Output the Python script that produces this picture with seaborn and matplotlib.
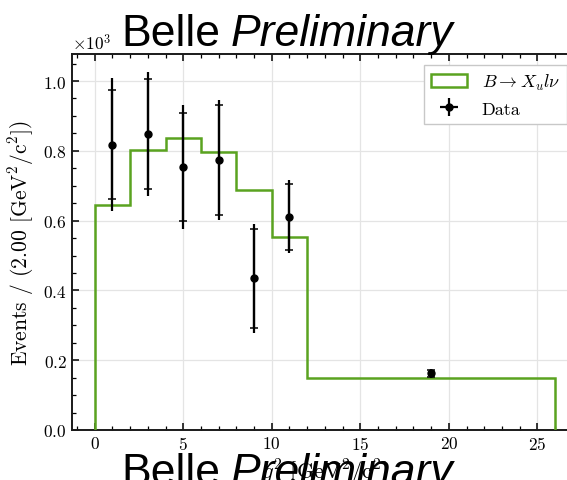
import numpy as np
import seaborn as sns
import matplotlib.pyplot as plt
from matplotlib.ticker import MultipleLocator, ScalarFormatter

# Binned signal template (events per bin) and measured data points
bin_edges = [0, 2, 4, 6, 8, 10, 12, 26]
signal_counts = [646, 801, 837, 797, 689, 554, 150]

data_q2 = [1, 3, 5, 7, 9, 11, 19]
data_counts = [818, 848, 753, 774, 435, 611, 163]
data_err_inner = [155, 157, 155, 157, 142, 95, 10]
data_err_outer = [191, 177, 177, 173, 156, 104, 13]

sns.set_theme(style="ticks")
plt.rcParams.update({
    "font.family": "serif",
    "font.serif": ["cmr10"],
    "mathtext.fontset": "cm",
    "axes.formatter.use_mathtext": True,
    "axes.unicode_minus": False,
    "xtick.direction": "in",
    "ytick.direction": "in",
    "xtick.top": True,
    "ytick.right": True,
    "axes.linewidth": 1.4,
    "axes.edgecolor": "#1a1a1a",
    "text.color": "black",
    "axes.labelcolor": "black",
    "xtick.color": "black",
    "ytick.color": "black",
})

fig = plt.figure(figsize=(5.67, 4.81), dpi=100)
ax = fig.add_axes([0.1265, 0.104, 0.893, 0.782])

green = "#5aa320"
centers = [(a + b) / 2 for a, b in zip(bin_edges[:-1], bin_edges[1:])]
ax.hist(centers, bins=bin_edges, weights=signal_counts, histtype="step",
        color=green, linewidth=1.8, label=r"$B \to X_u l\nu$", zorder=3)

# outer (total) uncertainty, no caps
ax.errorbar(data_q2, data_counts, yerr=data_err_outer, xerr=0, fmt="o",
            color="black", ms=5, elinewidth=1.6, capsize=0, zorder=4,
            label="Data")
# inner uncertainty with caps
ax.errorbar(data_q2, data_counts, yerr=data_err_inner, fmt="none",
            ecolor="black", elinewidth=1.6, capsize=3, capthick=1.1, zorder=4)

ax.set_xlim(-1.3, 27.3)
ax.set_ylim(0, 1078)
ax.xaxis.set_major_locator(MultipleLocator(5))
ax.xaxis.set_minor_locator(MultipleLocator(1))
ax.yaxis.set_major_locator(MultipleLocator(200))
ax.yaxis.set_minor_locator(MultipleLocator(50))
fmt = ScalarFormatter(useMathText=True)
fmt.set_powerlimits((0, 0))
ax.yaxis.set_major_formatter(fmt)
ax.tick_params(which="major", length=5, width=1.1, labelsize=12.5)
ax.tick_params(which="minor", length=3, width=0.9)
ax.yaxis.get_offset_text().set_fontsize(12.5)
ax.grid(True, which="major", color="#e4e4e4", linewidth=0.9)

ax.set_xlabel(r"$q^2$ [GeV$^2$/c$^2$]", fontsize=16, labelpad=4)
ax.set_ylabel(r"Events / (2.00 [GeV$^2$/c$^2$])", fontsize=15.5, labelpad=5)

leg = ax.legend(loc="upper right", fontsize=13, fancybox=False, framealpha=1,
                edgecolor="#c8c8c8", borderaxespad=0.6)
leg.get_frame().set_linewidth(1.0)

title_font = {"family": "Liberation Sans", "fontsize": 32, "color": "black"}
for yb in (1 - 46 / 481, 1 - 485 / 481):
    fig.text(121 / 567, yb, "Belle", va="baseline", ha="left", **title_font)
    fig.text(231 / 567, yb, "Preliminary", va="baseline", ha="left",
             style="italic", **title_font)

plt.savefig("out.png", dpi=100)
